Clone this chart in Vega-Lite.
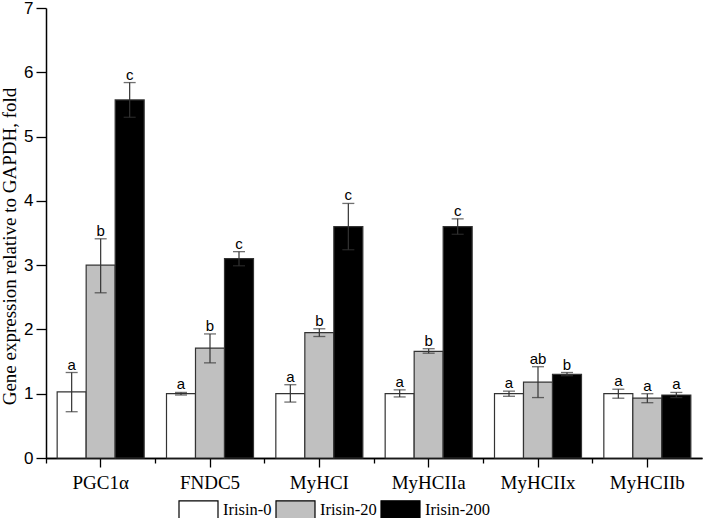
{
  "$schema": "https://vega.github.io/schema/vega-lite/v6.json",
  "width": 656,
  "height": 450,
  "autosize": {"type": "none"},
  "padding": {"left": 46, "top": 8, "right": 1, "bottom": 60},
  "background": "white",
  "config": {"view": {"stroke": null}},
  "data": {"values": [
    {"gene": "PGC1α", "group": "Irisin-0", "mean": 1.03, "lo": 0.72, "hi": 1.33, "letter": "a"},
    {"gene": "PGC1α", "group": "Irisin-20", "mean": 3.0, "lo": 2.57, "hi": 3.41, "letter": "b"},
    {"gene": "PGC1α", "group": "Irisin-200", "mean": 5.57, "lo": 5.3, "hi": 5.84, "letter": "c"},
    {"gene": "FNDC5", "group": "Irisin-0", "mean": 1.0, "lo": 0.98, "hi": 1.02, "letter": "a"},
    {"gene": "FNDC5", "group": "Irisin-20", "mean": 1.71, "lo": 1.48, "hi": 1.93, "letter": "b"},
    {"gene": "FNDC5", "group": "Irisin-200", "mean": 3.1, "lo": 2.99, "hi": 3.21, "letter": "c"},
    {"gene": "MyHCI", "group": "Irisin-0", "mean": 1.0, "lo": 0.87, "hi": 1.14, "letter": "a"},
    {"gene": "MyHCI", "group": "Irisin-20", "mean": 1.95, "lo": 1.89, "hi": 2.01, "letter": "b"},
    {"gene": "MyHCI", "group": "Irisin-200", "mean": 3.6, "lo": 3.24, "hi": 3.96, "letter": "c"},
    {"gene": "MyHCIIa", "group": "Irisin-0", "mean": 1.0, "lo": 0.95, "hi": 1.06, "letter": "a"},
    {"gene": "MyHCIIa", "group": "Irisin-20", "mean": 1.66, "lo": 1.63, "hi": 1.7, "letter": "b"},
    {"gene": "MyHCIIa", "group": "Irisin-200", "mean": 3.6, "lo": 3.48, "hi": 3.72, "letter": "c"},
    {"gene": "MyHCIIx", "group": "Irisin-0", "mean": 1.0, "lo": 0.96, "hi": 1.04, "letter": "a"},
    {"gene": "MyHCIIx", "group": "Irisin-20", "mean": 1.18, "lo": 0.94, "hi": 1.42, "letter": "ab"},
    {"gene": "MyHCIIx", "group": "Irisin-200", "mean": 1.3, "lo": 1.28, "hi": 1.33, "letter": "b"},
    {"gene": "MyHCIIb", "group": "Irisin-0", "mean": 1.0, "lo": 0.93, "hi": 1.07, "letter": "a"},
    {"gene": "MyHCIIb", "group": "Irisin-20", "mean": 0.93, "lo": 0.86, "hi": 1.0, "letter": "a"},
    {"gene": "MyHCIIb", "group": "Irisin-200", "mean": 0.98, "lo": 0.94, "hi": 1.02, "letter": "a"}
  ]},
  "encoding": {
    "x": {"field": "gene", "type": "nominal", "sort": null, "axis": null,
      "scale": {"paddingInner": 0, "paddingOuter": 0}},
    "xOffset": {"field": "group", "type": "nominal", "sort": ["Irisin-0", "Irisin-20", "Irisin-200"],
      "scale": {"paddingInner": 0, "paddingOuter": 0.385}}
  },
  "layer": [
    {
      "mark": {"type": "bar", "stroke": "#333333", "strokeWidth": 1.2},
      "encoding": {
        "x": {"field": "gene", "type": "nominal", "sort": null, "title": null,
          "axis": {"orient": "bottom", "labelAngle": 0, "labelFont": "Liberation Serif", "labelFontSize": 19,
            "labelColor": "black", "labelPadding": 6, "tickSize": 9, "tickColor": "black", "tickWidth": 1.3,
            "domainColor": "black", "domainWidth": 1.5}},
        "y": {"field": "mean", "type": "quantitative",
          "scale": {"domain": [0, 7], "nice": false},
          "title": "Gene expression relative to GAPDH, fold",
          "axis": {"values": [0, 0.5, 1, 1.5, 2, 2.5, 3, 3.5, 4, 4.5, 5, 5.5, 6, 6.5, 7],
            "labelExpr": "datum.value % 1 === 0 ? format(datum.value, 'd') : ''",
            "grid": false, "labelFont": "Liberation Sans", "labelFontSize": 17, "labelColor": "black",
            "labelPadding": 3,
            "tickSize": {"condition": {"test": "datum.value % 1 !== 0", "value": 5}, "value": 10},
            "tickColor": "black", "tickWidth": 1.3, "domainColor": "black", "domainWidth": 1.5,
            "titleFont": "Liberation Serif", "titleFontSize": 19, "titleFontWeight": "normal",
            "titleColor": "black", "titleX": -31, "titleY": 238, "titleBaseline": "alphabetic",
            "titleAlign": "center", "titleAngle": -90}},
        "fill": {"field": "group", "type": "nominal", "sort": ["Irisin-0", "Irisin-20", "Irisin-200"],
          "scale": {"domain": ["Irisin-0", "Irisin-20", "Irisin-200"], "range": ["#ffffff", "#c0c0c0", "#000000"]},
          "legend": {"orient": "none", "legendX": 132, "legendY": 481, "direction": "horizontal",
            "title": null, "padding": 0, "columnPadding": 1, "labelOffset": 4,
            "symbolType": "M-1,-0.47H1V0.47H-1Z", "symbolSize": 1521,
            "symbolStrokeColor": "black", "symbolStrokeWidth": 1.2,
            "labelFont": "Liberation Serif", "labelFontSize": 16.5, "labelColor": "black", "labelLimit": 200}}
      }
    },
    {
      "mark": {"type": "rule", "color": "#333333", "strokeWidth": 1.2},
      "encoding": {
        "y": {"field": "lo", "type": "quantitative"},
        "y2": {"field": "hi"}
      }
    },
    {
      "mark": {"type": "tick", "color": "#333333", "size": 12, "thickness": 1.3},
      "encoding": {"y": {"field": "lo", "type": "quantitative"}}
    },
    {
      "mark": {"type": "tick", "color": "#333333", "size": 12, "thickness": 1.3},
      "encoding": {"y": {"field": "hi", "type": "quantitative"}}
    },
    {
      "mark": {"type": "text", "font": "Liberation Sans", "fontSize": 15, "baseline": "alphabetic", "dy": -3, "color": "black"},
      "encoding": {
        "x": {"field": "gene", "type": "nominal", "sort": null, "title": null,
          "axis": {"orient": "bottom", "bandPosition": 0, "labels": false, "tickSize": 5, "tickColor": "black",
            "tickWidth": 1.3, "domainColor": "black", "domainWidth": 1.5}},
        "y": {"field": "hi", "type": "quantitative"},
        "text": {"field": "letter"}
      }
    }
  ],
  "resolve": {"axis": {"x": "independent"}}
}
